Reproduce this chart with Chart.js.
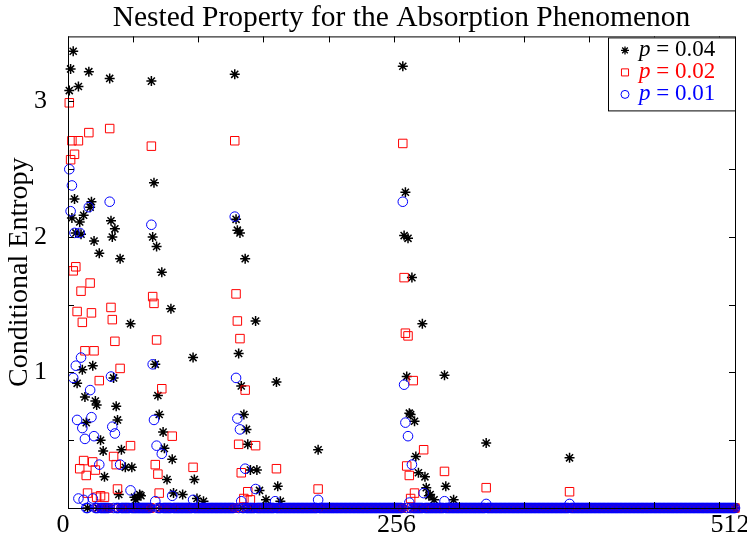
<!DOCTYPE html>
<html>
<head>
<meta charset="utf-8">
<script src="https://cdn.jsdelivr.net/npm/chart.js@4"></script>
<style>
  html, body { margin: 0; padding: 0; background: #fff; }
  canvas { display: block; }
</style>
</head>
<body>
<canvas id="entropyChart" width="747" height="537"></canvas>
<script>
// coefficient index 1..512, values not listed are 0
const N = 512;

// p = 0.04
const idx04 = [1, 2, 3, 4, 5, 6, 7, 8, 9, 10, 11, 12, 13, 14, 16, 17, 18, 19, 20, 21, 22, 24, 25, 27, 28,
  32, 33, 34, 35, 36, 37, 38, 39, 40, 41, 44, 48, 49, 51, 52, 55, 56,
  64, 65, 66, 67, 68, 69, 70, 72, 73, 74, 76, 79, 80, 81, 88, 96, 97, 99, 104,
  128, 129, 130, 131, 132, 133, 135, 136, 137, 138, 140, 144, 145, 147, 152, 160, 161, 163, 192,
  257, 258, 259, 260, 261, 262, 263, 264, 266, 267, 269, 272, 274, 275, 277, 278, 281, 289, 290, 296, 321, 385];
const val04 = [3.08, 3.24, 2.14, 3.37, 2.28, 2.03, 0.92, 3.11, 2.11, 2.02, 1.02, 2.16, 0.82, 0.63, 3.22, 2.22, 2.26, 1.05, 1.97, 0.79, 0.76, 1.88, 0.50, 0.42, 0.23,
  3.17, 2.12, 2.00, 0.96, 2.06, 0.75, 0.65, 0.10, 1.84, 0.43, 0.30, 1.36, 0.30, 0.08, 0.06, 0.10, 0.09,
  3.15, 2.00, 2.40, 1.06, 1.93, 0.83, 0.69, 1.74, 0.56, 0.44, 0.21, 1.47, 0.36, 0.11, 0.10, 1.11, 0.21, 0.07, 0.05,
  3.20, 2.13, 2.05, 1.14, 2.03, 0.90, 0.69, 1.84, 0.58, 0.47, 0.28, 1.38, 0.28, 0.13, 0.06, 0.93, 0.16, 0.05, 0.43,
  3.26, 2.01, 2.33, 0.97, 1.99, 0.70, 0.69, 1.70, 0.64, 0.38, 0.26, 1.36, 0.23, 0.15, 0.09, 0.10, 0.06, 0.98, 0.16, 0.06, 0.48, 0.37];

// p = 0.02
const idx02 = [1, 2, 3, 4, 5, 6, 7, 8, 9, 10, 11, 12, 13, 14, 15, 16, 17, 18, 19, 20, 21, 22, 24, 25, 28,
  32, 33, 34, 35, 36, 37, 38, 40, 48,
  64, 65, 66, 67, 68, 69, 70, 72, 80, 96,
  128, 129, 130, 131, 132, 133, 135, 136, 138, 140, 144, 160, 192,
  257, 258, 259, 260, 261, 262, 263, 265, 266, 273, 289, 321, 385];
const val02 = [2.99, 2.57, 2.71, 1.75, 2.61, 1.78, 1.45, 2.71, 0.29, 1.60, 1.37, 0.35, 1.16, 0.24, 0.11, 2.77, 1.66, 1.44, 0.34, 1.16, 0.28, 0.08, 0.94, 0.09, 0.08,
  2.80, 1.48, 1.39, 0.38, 1.23, 0.32, 0.14, 1.03, 0.46,
  2.67, 1.56, 1.51, 0.32, 1.24, 0.25, 0.11, 0.88, 0.53, 0.30,
  2.71, 1.58, 1.38, 0.47, 1.25, 0.26, 0.07, 0.87, 0.12, 0.06, 0.46, 0.29, 0.14,
  2.69, 1.70, 1.29, 0.31, 1.27, 0.24, 0.07, 0.94, 0.11, 0.43, 0.27, 0.15, 0.12];

// p = 0.01
const idx01 = [1, 2, 3, 4, 5, 6, 7, 8, 9, 10, 11, 12, 13, 16, 17, 18, 19, 20, 24,
  32, 33, 34, 36, 40, 48,
  64, 65, 66, 67, 68, 72, 80, 96,
  128, 129, 130, 132, 133, 136, 144, 159, 192,
  257, 258, 259, 261, 262, 264, 273, 289, 321, 385];
const val01 = [2.50, 2.19, 2.38, 0.96, 2.03, 1.05, 0.65, 0.07, 2.03, 1.11, 0.59, 0.06, 0.51, 2.22, 0.87, 0.67, 0.07, 0.53, 0.32,
  2.26, 0.97, 0.60, 0.55, 0.32, 0.13,
  2.09, 1.06, 0.65, 0.05, 0.46, 0.40, 0.09, 0.06,
  2.15, 0.96, 0.66, 0.58, 0.05, 0.29, 0.14, 0.05, 0.06,
  2.26, 0.91, 0.63, 0.53, 0.04, 0.32, 0.11, 0.05, 0.03, 0.03];

const xTickLabels = [0, 256, 512];
const yTickLabels = [1, 2, 3];
const xTickMarks = [0, 50, 100, 150, 200, 250, 300, 350, 400, 450, 500];
const yTickMarks = [0, 0.5, 1, 1.5, 2, 2.5, 3];

const seriesLabels = ["0.04", "0.02", "0.01"];
const seriesColors = ["#000000", "#ff0000", "#0000ff"];
const seriesStyles = ["star", "rect", "circle"];

const SERIF = "'Liberation Serif', 'DejaVu Serif', serif";

function buildSeries(idx, val) {
  const ys = new Array(N).fill(0);
  idx.forEach((i, k) => { ys[i - 1] = val[k]; });
  return ys.map((y, i) => ({ x: i + 1, y: y }));
}

// box + inward ticks on all four sides
const frameTicks = {
  id: "frameTicks",
  afterDatasetsDraw(chart) {
    const { ctx, chartArea: a, scales } = chart;
    ctx.save();
    ctx.strokeStyle = "#000";
    ctx.lineWidth = 1;
    ctx.strokeRect(a.left + 0.5, a.top + 0.5, a.right - a.left, a.bottom - a.top);
    ctx.beginPath();
    xTickMarks.forEach(v => {
      const px = Math.round(scales.x.getPixelForValue(v)) + 0.5;
      ctx.moveTo(px, a.bottom); ctx.lineTo(px, a.bottom - 6);
      ctx.moveTo(px, a.top); ctx.lineTo(px, a.top + 6);
    });
    yTickMarks.forEach(v => {
      const py = Math.round(scales.y.getPixelForValue(v)) + 0.5;
      ctx.moveTo(a.left, py); ctx.lineTo(a.left + 6, py);
      ctx.moveTo(a.right, py); ctx.lineTo(a.right - 6, py);
    });
    ctx.stroke();
    ctx.restore();
  }
};

// legend box in the upper right corner
const cornerLegend = {
  id: "cornerLegend",
  afterDraw(chart) {
    const { ctx, chartArea: a } = chart;
    const bx = a.right - 127, by = a.top + 1, bw = 127, bh = 73;
    ctx.save();
    ctx.fillStyle = "#fff";
    ctx.fillRect(bx, by, bw, bh);
    ctx.strokeStyle = "#000";
    ctx.lineWidth = 1;
    ctx.strokeRect(bx + 0.5, by + 0.5, bw, bh);
    const sizes = [4, 5, 4];
    seriesLabels.forEach((lab, i) => {
      const cy = by + 13 + i * 22;
      ctx.fillStyle = "rgba(0,0,0,0)";
      ctx.strokeStyle = seriesColors[i];
      ctx.lineWidth = i === 0 ? 1.3 : 1;
      Chart.helpers.drawPoint(ctx, {
        pointStyle: seriesStyles[i], radius: sizes[i], borderWidth: ctx.lineWidth
      }, bx + 17, cy);
      ctx.fillStyle = seriesColors[i];
      ctx.textBaseline = "middle";
      ctx.font = "italic 23px " + SERIF;
      let tx = bx + 31;
      ctx.fillText("p", tx, cy);
      tx += ctx.measureText("p").width;
      ctx.font = "23px " + SERIF;
      ctx.fillText(" = " + lab, tx, cy);
    });
    ctx.restore();
  }
};

const datasets = [
  { data: buildSeries(idx04, val04), order: 3 },
  { data: buildSeries(idx02, val02), order: 2 },
  { data: buildSeries(idx01, val01), order: 1 }
].map((d, i) => Object.assign(d, {
  label: "p = " + seriesLabels[i],
  pointStyle: seriesStyles[i],
  pointRadius: [5, 6, 4.8][i],
  pointBorderWidth: [1.5, 1, 1][i],
  borderColor: seriesColors[i],
  backgroundColor: "rgba(0,0,0,0)",
  pointHoverRadius: 0,
  clip: false
}));

new Chart(document.getElementById("entropyChart"), {
  type: "scatter",
  data: { datasets: datasets },
  options: {
    responsive: false,
    animation: false,
    layout: { padding: { left: 0, right: 12, top: 0, bottom: 0 } },
    plugins: {
      legend: { display: false },
      tooltip: { enabled: false },
      title: {
        display: true,
        text: "Nested Property for the Absorption Phenomenon",
        color: "#000",
        fullSize: false,
        font: { family: SERIF, size: 29.5, weight: "normal" },
        padding: { top: 1, bottom: 0 }
      }
    },
    scales: {
      x: {
        type: "linear",
        min: 0,
        max: 512,
        grid: { display: false, drawTicks: false },
        border: { display: false },
        ticks: {
          color: "#000",
          font: { family: SERIF, size: 26 },
          padding: 2,
          labelOffset: -5,
          maxRotation: 0,
          autoSkip: false
        },
        afterBuildTicks: s => { s.ticks = xTickLabels.map(v => ({ value: v })); },
        afterFit: s => { s.height = 29; s.paddingLeft = 0; s.paddingRight = 0; }
      },
      y: {
        type: "linear",
        min: 0,
        max: 3.48,
        grid: { display: false, drawTicks: false },
        border: { display: false },
        ticks: {
          color: "#000",
          font: { family: SERIF, size: 26 },
          padding: 21
        },
        title: {
          display: true,
          text: "Conditional Entropy",
          color: "#000",
          font: { family: SERIF, size: 28 },
          padding: { top: 3, bottom: 0 }
        },
        afterBuildTicks: s => { s.ticks = yTickLabels.map(v => ({ value: v })); },
        afterFit: s => { s.width = 68; s.paddingTop = 0; s.paddingBottom = 0; }
      }
    }
  },
  plugins: [frameTicks, cornerLegend]
});
</script>
</body>
</html>
